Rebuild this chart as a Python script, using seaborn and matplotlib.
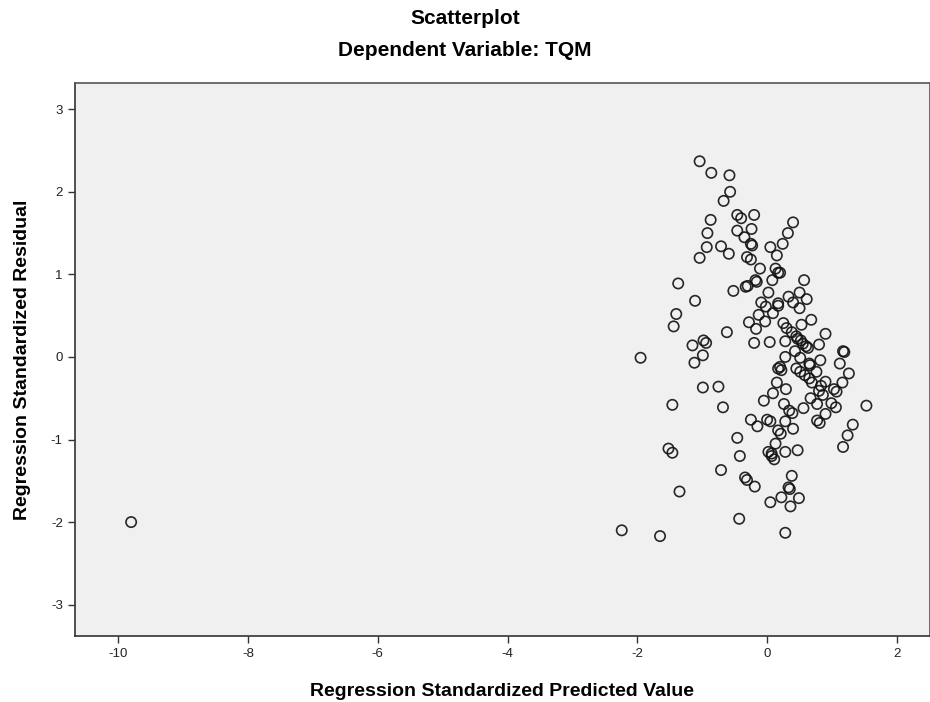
import matplotlib
matplotlib.use("Agg")
import matplotlib.pyplot as plt
import pandas as pd
import seaborn as sns

# Values
pred = [
    -1.04, -0.86, -0.58, -0.57, -0.67, -0.87, -0.46, -0.40, -0.20, -0.92,
    -0.46, -0.24, -0.35, -0.25, -0.23, -0.93, -0.71, -0.59, -1.04, 0.05,
    -0.31, -0.25, 0.15, -0.11, 0.13, 0.17, 0.20, -1.37, -0.33, -0.30,
    -0.18, -0.16, 0.08, -0.52, 0.02, -1.11, -0.09, -1.40, -1.44, -0.28,
    -0.13, -0.03, -0.17, -0.62, -0.20, 0.04, -0.98, -0.94, -1.15, -1.95,
    -0.99, -1.12, 0.40, 0.32, 0.24, 0.57, 0.33, 0.50, 0.61, 0.40,
    0.50, 0.17, -0.02, 0.09, 0.68, 0.53, 0.25, 0.30, 0.38, 0.45,
    0.52, 0.60, 0.63, 0.90, 0.80, 0.28, 1.17, 1.19, 0.43, 0.28,
    0.51, 0.82, 1.12, 0.20, 0.66, 0.17, 0.47, 0.55,
    -0.99, -0.75, -1.46, -0.68, -0.05, 0.09, 0.15, 0.17, -0.25, -0.15,
    0.00, 0.05, 0.17, -0.46, 0.13, 0.02, 0.07, 0.11, -1.52, -1.46,
    -0.42, -0.71, -0.34, -0.31, -0.19, 0.05, -1.35, -0.43, -2.24, -1.65,
    1.26, 1.16, 1.53, 1.32, 1.24, 1.17, 0.22, 0.45, 0.51, 0.58,
    0.65, 0.69, 0.65, 0.76, 0.90, 1.03, 1.07, 0.80, 0.86, 0.29,
    0.26, 0.67, 0.77, 0.99, 1.06, 0.56, 0.34, 0.39, 0.90, 0.77,
    0.81, 0.28, 0.40, 0.21, 0.28, 0.47, 0.38, 0.33, 0.35, 0.22,
    0.49, 0.36, 0.28, -9.80, 0.07, 0.83,
]
resid = [
    2.37, 2.23, 2.20, 2.00, 1.89, 1.66, 1.72, 1.68, 1.72, 1.50,
    1.53, 1.55, 1.45, 1.37, 1.35, 1.33, 1.34, 1.25, 1.20, 1.33,
    1.21, 1.18, 1.23, 1.07, 1.07, 1.02, 1.02, 0.89, 0.85, 0.86,
    0.93, 0.91, 0.93, 0.80, 0.78, 0.68, 0.66, 0.52, 0.37, 0.42,
    0.51, 0.43, 0.34, 0.30, 0.17, 0.18, 0.20, 0.17, 0.14, -0.01,
    0.02, -0.07, 1.63, 1.50, 1.37, 0.93, 0.73, 0.78, 0.70, 0.66,
    0.59, 0.65, 0.61, 0.53, 0.45, 0.39, 0.41, 0.35, 0.30, 0.25,
    0.20, 0.13, 0.11, 0.28, 0.15, 0.19, 0.07, 0.06, 0.07, 0.00,
    -0.01, -0.04, -0.08, -0.12, -0.10, 0.62, 0.22, 0.16,
    -0.37, -0.36, -0.58, -0.61, -0.53, -0.44, -0.31, -0.14, -0.76, -0.84,
    -0.76, -0.78, -0.89, -0.98, -1.05, -1.15, -1.20, -1.24, -1.11, -1.16,
    -1.20, -1.37, -1.46, -1.49, -1.57, -1.76, -1.63, -1.96, -2.10, -2.17,
    -0.20, -0.31, -0.59, -0.82, -0.95, -1.09, -0.16, -0.14, -0.18, -0.22,
    -0.26, -0.31, -0.08, -0.18, -0.30, -0.39, -0.42, -0.41, -0.46, -0.39,
    -0.57, -0.50, -0.57, -0.56, -0.61, -0.62, -0.65, -0.68, -0.69, -0.77,
    -0.80, -0.78, -0.87, -0.93, -1.15, -1.13, -1.44, -1.58, -1.60, -1.70,
    -1.71, -1.81, -2.13, -2.00, -1.17, -0.35,
]

x_ticks = [-10, -8, -6, -4, -2, 0, 2]
y_ticks = [-3, -2, -1, 0, 1, 2, 3]

df = pd.DataFrame({"pred": pred, "resid": resid})

sns.set_style("ticks")
plt.rcParams["font.family"] = ["Liberation Sans", "DejaVu Sans"]
plt.rcParams["axes.unicode_minus"] = False
plt.rcParams["text.color"] = "black"
plt.rcParams["axes.labelcolor"] = "black"

fig = plt.figure(figsize=(9.3, 7.02), dpi=100)
ax = fig.add_axes([0.0803, 0.094, 0.9197, 0.788])
ax.set_facecolor("#f0f0f0")

sns.scatterplot(data=df, x="pred", y="resid", ax=ax,
                marker="o", s=55, facecolors="none",
                edgecolor="#111111", linewidth=1.2, alpha=0.9)

ax.set_xlim(-10.67, 2.51)
ax.set_ylim(-3.38, 3.32)
ax.set_xticks(x_ticks)
ax.set_yticks(y_ticks)
ax.tick_params(axis="both", direction="out", length=5, width=1,
               labelsize=9.5, colors="#333333", labelcolor="#222222")

for side in ["left", "bottom"]:
    ax.spines[side].set_color("#333333")
    ax.spines[side].set_linewidth(1.2)
for side in ["top", "right"]:
    ax.spines[side].set_color("#555555")
    ax.spines[side].set_linewidth(1.2)

ax.set_xlabel("Regression Standardized Predicted Value",
              fontsize=14, fontweight="bold", labelpad=17)
ax.set_ylabel("Regression Standardized Residual",
              fontsize=14, fontweight="bold", labelpad=14)

fig.text(0.5, 1 - 18 / 702, "Scatterplot", ha="center", va="center",
         fontsize=15, fontweight="bold")
fig.text(0.5, 1 - 50 / 702, "Dependent Variable: TQM", ha="center",
         va="center", fontsize=15, fontweight="bold")

fig.savefig("out.png", dpi=100)
